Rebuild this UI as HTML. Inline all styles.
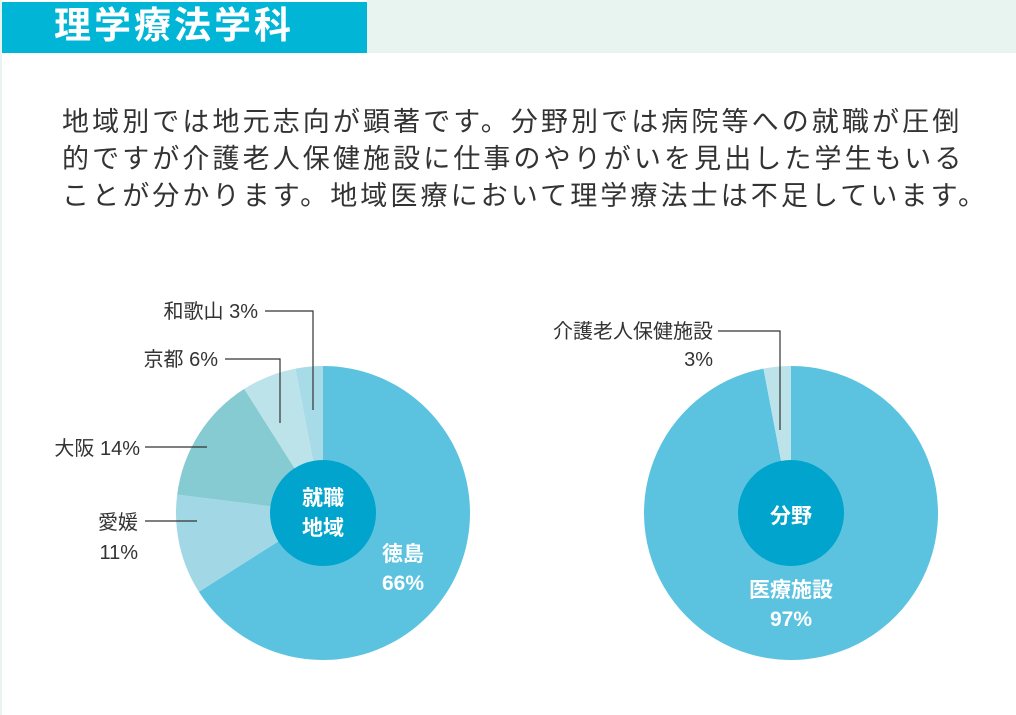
<!DOCTYPE html>
<html><head><meta charset="utf-8"><style>
html,body{margin:0;padding:0;background:#fff;}
body{width:1016px;height:715px;position:relative;overflow:hidden;font-family:"Liberation Sans","Noto Sans CJK JP",sans-serif;}
.hdr{position:absolute;left:2px;top:2px;width:365px;height:51px;background:#00b5d6;color:#fff;font-size:37px;font-weight:bold;line-height:51px;letter-spacing:3px;}
.hdr span{position:absolute;left:52px;top:-2px;}
.strip{position:absolute;left:367px;top:0;width:649px;height:53px;background:#e8f4ef;}
.edge{position:absolute;left:0;top:0;width:2px;height:715px;background:#e8f4ef;}
.para{position:absolute;left:62px;top:104px;font-size:27px;line-height:37px;color:#333;letter-spacing:3.1px;white-space:nowrap;}
svg{position:absolute;left:0;top:0;}
</style></head><body>
<div class="edge"></div>
<div class="strip"></div>
<div class="hdr"><span>理学療法学科</span></div>
<div class="para">地域別では地元志向が顕著です。分野別では病院等への就職が圧倒<br>的ですが介護老人保健施設に仕事のやりがいを見出した学生もいる<br>ことが分かります。地域医療において理学療法士は不足しています。</div>
<svg width="1016" height="715" id="chart"></svg>
<script>
const regionNames=["徳島","愛媛","大阪","京都","和歌山"];
const regionValues=[66,11,14,6,3];
const regionColors=["#5bc3e0","#a2d8e6","#86cbd2","#bde3ea","#a8dbe8"];
const fieldNames=["医療施設","介護老人保健施設"];
const fieldValues=[97,3];
const fieldColors=["#5bc3e0","#bde3ea"];
const NS="http://www.w3.org/2000/svg";
const svg=document.getElementById('chart');
function mk(t,a,p){const e=document.createElementNS(NS,t);for(const k in a)e.setAttribute(k,a[k]);(p||svg).appendChild(e);return e;}
function pie(cx,cy,r,vals,cols,names,key){
  const tot=vals.reduce((a,b)=>a+b,0);let acc=0;
  vals.forEach((v,i)=>{
    const a0=acc/tot*2*Math.PI;acc+=v;const a1=acc/tot*2*Math.PI;
    const x0=cx+r*Math.sin(a0),y0=cy-r*Math.cos(a0),x1=cx+r*Math.sin(a1),y1=cy-r*Math.cos(a1);
    const p=mk('path',{d:`M${cx},${cy}L${x0},${y0}A${r},${r} 0 ${a1-a0>Math.PI?1:0} 1 ${x1},${y1}Z`,fill:cols[i]});
    
    
  });
}
function txt(x,y,s,o){const t=mk('text',Object.assign({x:x,y:y,'font-size':20,fill:'#333','font-family':'"Liberation Sans","Noto Sans CJK JP",sans-serif'},o||{}));t.textContent=s;

return t;}
function line(pts){const l=mk('polyline',{points:pts,fill:'none',stroke:'#333','stroke-width':1.2});

}
pie(323,513,147,regionValues,regionColors,regionNames,'region');
pie(791,513,147,fieldValues,fieldColors,fieldNames,'field');
const c1=mk('circle',{cx:323,cy:513,r:53,fill:'#00a4cc'});


const c2=mk('circle',{cx:791,cy:513,r:53,fill:'#00a4cc'});


const W={fill:'#fff','font-weight':'bold','text-anchor':'middle','font-size':21};
txt(323,505,'就職',W);txt(323,535,'地域',W);txt(791,523,'分野',W);
txt(403,561,regionNames[0],W);txt(403,590,regionValues[0]+'%',W);
txt(791,597,fieldNames[0],W);txt(791,626,fieldValues[0]+'%',W);
const L={'text-anchor':'end'};
txt(258,318,regionNames[4]+' '+regionValues[4]+'%',L);line('265,311 313,311 313,410');
txt(218,366,regionNames[3]+' '+regionValues[3]+'%',L);line('225,359 280,359 280,423');
txt(140,455,regionNames[2]+' '+regionValues[2]+'%',L);line('145,447 207,447');
txt(138,529,regionNames[1],L);txt(138,559,regionValues[1]+'%',L);line('145,521 197,521');
txt(713,338,fieldNames[1],L);txt(713,366,fieldValues[1]+'%',L);line('718,331 780,331 780,430');
</script>
</body></html>
